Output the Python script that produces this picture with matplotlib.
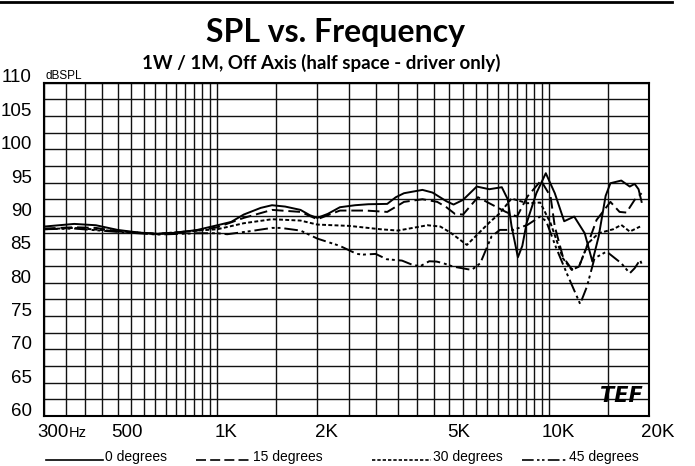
import matplotlib
matplotlib.use("Agg")
import matplotlib.pyplot as plt
from matplotlib.lines import Line2D
from matplotlib.ticker import FixedLocator, NullFormatter
from matplotlib.transforms import ScaledTranslation

# frequency response curves (Hz, dB SPL)
f_0 = [300, 370, 430, 500, 580, 660, 760, 870, 1000, 1100, 1200, 1350, 1460, 1600,
       1780, 1900, 2000, 2150, 2340, 2600, 2850, 3250, 3450, 3650, 4150, 4450, 4900,
       5150, 5500, 6050, 6600, 7200, 7500, 7700, 8050, 8300, 8550, 9150, 9770, 10400,
       11100, 11900, 12800, 13500, 14100, 14800, 15300, 16500, 17500, 18100, 18600, 19000]
db_0 = [88.4, 88.8, 88.6, 87.9, 87.5, 87.3, 87.5, 87.9, 88.6, 89.1, 90.2, 91.2, 91.6, 91.4,
        90.9, 90.1, 89.7, 90.3, 91.3, 91.6, 91.75, 91.8, 92.8, 93.4, 93.9, 93.5, 92.2,
        91.7, 92.4, 94.4, 94.0, 94.3, 92.5, 88.5, 83.8, 85.5, 88.9, 93.4, 96.4, 93.4,
        89.2, 89.9, 87.4, 83.15, 86.9, 93.0, 94.9, 95.3, 94.4, 94.8, 94.0, 92.1]

f_15 = [300, 370, 430, 500, 660, 870, 1000, 1200, 1460, 1780, 2000, 2340, 2800, 3250,
        3650, 4150, 4600, 4900, 5200, 5500, 6100, 6600, 7400, 8000, 8600, 9450, 10100,
        10400, 11000, 11700, 12300, 13000, 13900, 15300, 16300, 17100, 18100, 19000]
db_15 = [88.1, 88.3, 88.2, 87.7, 87.3, 87.8, 88.3, 89.7, 90.9, 90.6, 89.5, 90.8, 90.8, 90.6,
         92.1, 92.5, 92.1, 91.3, 90.3, 90.2, 92.8, 91.9, 90.6, 89.9, 92.9, 95.3, 92.9,
         88.4, 83.9, 82.0, 82.4, 85.4, 89.4, 92.1, 90.6, 90.5, 92.4, 93.4]

f_30 = [300, 370, 500, 660, 870, 1000, 1200, 1460, 1780, 2000, 2500, 3100, 3500, 4300,
        4700, 5000, 5150, 5650, 6200, 6600, 7100, 7700, 8600, 9400, 10100, 11000, 11700,
        12300, 13100, 14100, 15600, 16500, 17500, 18800]
db_30 = [88.0, 88.2, 87.7, 87.3, 87.8, 88.0, 88.9, 89.5, 89.3, 88.7, 88.5, 88.0, 87.8, 88.6,
         88.4, 87.6, 87.15, 85.65, 87.65, 89.0, 90.4, 92.6, 91.9, 92.0, 88.9, 83.65, 81.9,
         82.4, 85.9, 87.4, 88.0, 88.65, 87.65, 88.4]

f_45 = [300, 370, 500, 660, 870, 1000, 1070, 1250, 1460, 1550, 1780, 2000, 2340, 2630,
        2750, 3000, 3240, 3600, 3900, 4100, 4350, 4580, 4800, 5130, 5840, 6200, 6700,
        7100, 7800, 8600, 9400, 9800, 10500, 11300, 12400, 13000, 13700, 14900, 16500,
        17500, 18100, 18800, 19000]
db_45 = [88.0, 88.1, 87.6, 87.2, 87.4, 87.4, 87.25, 87.7, 88.2, 88.2, 87.8, 86.6, 85.5, 84.3,
         84.2, 84.3, 83.5, 83.3, 82.6, 82.5, 83.2, 83.15, 82.9, 82.4, 81.9, 82.9, 86.9,
         87.9, 87.9, 88.65, 89.9, 89.2, 85.2, 81.4, 76.8, 79.4, 83.65, 84.65, 82.9,
         81.4, 82.15, 83.4, 82.8]

x_labels = ["300", "500", "1K", "2K", "5K", "10K", "20K"]
x_label_freqs = [300, 500, 1000, 2000, 5000, 10000, 20000]
y_labels = [60, 65, 70, 75, 80, 85, 90, 95, 100, 105, 110]
legend_labels = ["0 degrees", "15 degrees", "30 degrees", "45 degrees"]

grid_freqs = (list(range(300, 1000, 50)) + list(range(1000, 10000, 500))
              + [10000, 15000, 20000])

plt.rcParams["font.family"] = ["Liberation Sans", "DejaVu Sans"]

fig = plt.figure(figsize=(6.95, 4.66), dpi=100)
ax = fig.add_axes([44 / 695, 1 - 416 / 466, (649 - 44) / 695, (416 - 82.5) / 466])

styles = ["-", (0, (6, 2.5)), (0, (2, 1.2)), (0, (7, 2, 1.5, 1.5, 1.5, 2))]
curves = [(f_0, db_0), (f_15, db_15), (f_30, db_30), (f_45, db_45)]
for (f, db), ls in zip(curves, styles):
    ax.plot(f, db, color="black", lw=1.4, ls=ls)

ax.set_xscale("log")
ax.set_xlim(300, 20000)
ax.set_ylim(60, 110)

ax.xaxis.set_major_locator(FixedLocator([]))
ax.xaxis.set_minor_locator(FixedLocator(grid_freqs))
ax.xaxis.set_minor_formatter(NullFormatter())
ax.set_yticks(y_labels)
ax.set_yticks([v + 2.5 for v in y_labels[:-1]], minor=True)
ax.grid(True, which="both", color="#111111", lw=1.0)
ax.tick_params(which="both", length=0)
ax.tick_params(axis="y", pad=9, labelsize=13.5)
for lab in ax.get_yticklabels():
    lab.set_verticalalignment("baseline")
for s in ax.spines.values():
    s.set_linewidth(1.5)

# x labels, shifted right of their grid lines as in the original
shift = ax.get_xaxis_transform() + ScaledTranslation(0.09, -0.21, fig.dpi_scale_trans)
for f, lab in zip(x_label_freqs, x_labels):
    ax.text(f, 0, lab, transform=shift, ha="center", va="baseline", fontsize=13.5)
ax.text(300, 0, "Hz", transform=ax.get_xaxis_transform()
        + ScaledTranslation(0.245, -0.21, fig.dpi_scale_trans),
        ha="left", va="baseline", fontsize=10.5)
ax.text(0, 1, "dBSPL", transform=ax.transAxes + ScaledTranslation(0.02, 0.04, fig.dpi_scale_trans),
        ha="left", va="baseline", fontsize=8.5)

# TEF logo
ax.text(0.99, 0.06, "TEF", transform=ax.transAxes, ha="right", va="center",
        fontsize=15, fontweight="heavy", fontstyle="italic", family="DejaVu Sans")

# titles and top rule
fig.add_artist(Line2D([0, 672 / 695], [1 - 2 / 466] * 2, color="black", lw=2))
fig.text(336 / 695, 1 - 42 / 466, "SPL vs. Frequency", ha="center", va="baseline",
         fontsize=23, fontweight="bold", family="Lato")
fig.text(321 / 695, 1 - 69 / 466, "1W / 1M, Off Axis (half space - driver only)",
         ha="center", va="baseline", fontsize=13.5, fontweight="bold", family="Lato")

# legend row
leg_lines = [(46, 103), (196, 251), (372, 431), (522, 567)]
for (x0, x1), ls, lab in zip(leg_lines, styles, legend_labels):
    fig.add_artist(Line2D([x0 / 695, x1 / 695], [1 - 460 / 466] * 2, color="black",
                          lw=1.2, ls=ls))
    fig.text((x1 + 2) / 695, 1 - 461 / 466, lab, ha="left", va="baseline", fontsize=10)

fig.savefig("out.png", dpi=100)
